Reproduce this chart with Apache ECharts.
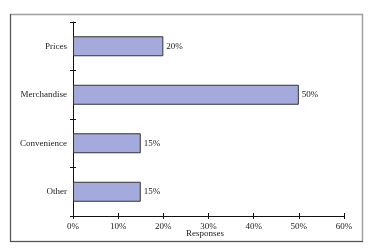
<!DOCTYPE html>
<html><head><meta charset="utf-8">
<script src="https://cdn.jsdelivr.net/npm/echarts@6/dist/echarts.min.js"></script>
<style>html,body{margin:0;padding:0;background:#fff}#c{width:390px;height:250px}</style>
</head><body><div id="c"></div>
<script>
var categories = ['Prices', 'Merchandise', 'Convenience', 'Other'];
var values = [20, 50, 15, 15];
var xTicks = [0, 10, 20, 30, 40, 50, 60];
var axisName = 'Responses';

var chart = echarts.init(document.getElementById('c'), null, {renderer: 'canvas'});
var font = '"Liberation Serif", "DejaVu Serif", serif';
var xMin = xTicks[0], xMax = xTicks[xTicks.length - 1];
chart.setOption({
  animation: false,
  backgroundColor: '#fff',
  graphic: [
    {type: 'rect', shape: {x: 10.5, y: 14.5, width: 352, height: 227}, style: {fill: 'none', stroke: '#a0a0a0', lineWidth: 1.5}, z: -1},
    {type: 'line', shape: {x1: 10.5, y1: 14, x2: 10.5, y2: 242}, style: {stroke: '#555', lineWidth: 1}},
    {type: 'line', shape: {x1: 10, y1: 241.5, x2: 363, y2: 241.5}, style: {stroke: '#555', lineWidth: 1}},
    {type: 'text', left: 186, top: 229, style: {text: axisName, font: '9px ' + font, fill: '#222'}}
  ],
  grid: {left: 73, right: 46, top: 22, bottom: 34, containLabel: false},
  xAxis: [{
    type: 'value', min: xMin, max: xMax, interval: 10,
    axisLine: {show: true, lineStyle: {color: '#111', width: 1}},
    axisTick: {show: true, length: 3, lineStyle: {color: '#111'}},
    splitLine: {show: false},
    axisLabel: {formatter: '{value}%', fontFamily: font, fontSize: 9, color: '#222', margin: 6}
  }, {
    type: 'value', position: 'bottom', min: xMin, max: xMax, interval: 10,
    axisLine: {show: false}, splitLine: {show: false}, axisLabel: {show: false},
    axisTick: {show: true, inside: true, length: 3, lineStyle: {color: '#111'}}
  }],
  yAxis: [{
    type: 'category', data: categories, inverse: true,
    axisLine: {show: true, lineStyle: {color: '#111', width: 1}},
    axisTick: {show: true, length: 3, lineStyle: {color: '#111'}},
    axisLabel: {fontFamily: font, fontSize: 9, color: '#222', margin: 6}
  }, {
    type: 'category', data: categories, inverse: true, position: 'left',
    axisLine: {show: false}, axisLabel: {show: false}, splitLine: {show: false},
    axisTick: {show: true, inside: true, length: 3, lineStyle: {color: '#111'}}
  }],
  series: [{
    type: 'bar', data: values, barWidth: 20, xAxisIndex: 0, yAxisIndex: 0,
    itemStyle: {color: '#a5aadc', borderColor: '#333', borderWidth: 1},
    label: {show: true, position: 'right', distance: 3, formatter: '{c}%', fontFamily: font, fontSize: 9, color: '#222'}
  }]
});
</script></body></html>
